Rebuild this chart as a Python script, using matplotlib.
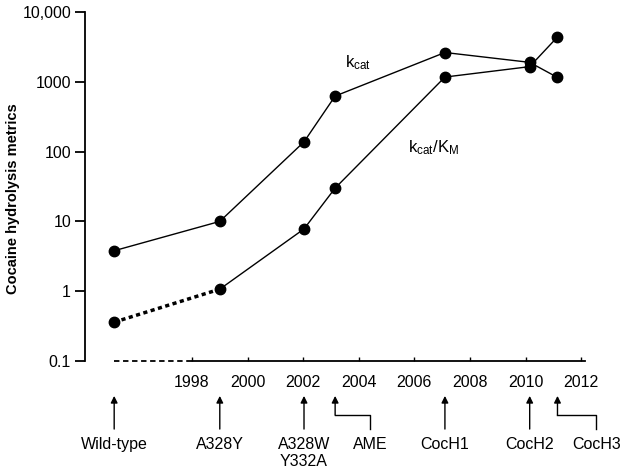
import numpy as np
import matplotlib
matplotlib.use('Agg')
import matplotlib.pyplot as plt

plt.rcParams['font.family'] = 'Liberation Sans'
plt.rcParams['mathtext.fontset'] = 'custom'
plt.rcParams['mathtext.rm'] = 'Liberation Sans'

# point positions (years, as drawn) and values
pt_years = [1995.2, 1999.0, 2002.03, 2003.15, 2007.1, 2010.15, 2011.15]
kcat = [3.8, 10, 138, 625, 2630, 1900, 1155]
kcat_km = [0.36, 1.07, 7.8, 30, 1170, 1650, 4390]

# enzyme labels below the axis
enz_names = ['Wild-type', 'A328Y', 'A328W\nY332A', 'AME', 'CocH1', 'CocH2', 'CocH3']
arrow_years = [1995.2, 1999.0, 2002.03, 2003.15, 2007.1, 2010.15, 2011.15]
label_years = [1995.2, 1999.0, 2002.03, 2004.41, 2007.1, 2010.15, 2012.55]

year_ticks = [1998, 2000, 2002, 2004, 2006, 2008, 2010, 2012]
y_ticks = [0.1, 1, 10, 100, 1000, 10000]
y_labels = ['0.1', '1', '10', '100', '1000', '10,000']

fig = plt.figure(figsize=(6.31, 4.75), dpi=100)
ax = fig.add_axes([0.1347, 0.24, 0.8479, 0.7347])

ax.set_yscale('log')
ax.set_ylim(0.1, 10000)
ax.set_xlim(1994.15, 2013.4)

# kcat
ax.plot(pt_years, kcat, color='k', lw=1, marker='o', ms=7.5, clip_on=False, zorder=3)
# kcat/KM, dashed first step
ax.plot(pt_years[:2], kcat_km[:2], color='k', lw=2.5, ls=(0, (1.2, 1.0)), zorder=2)
ax.plot(pt_years[1:], kcat_km[1:], color='k', lw=1, zorder=2)
ax.plot(pt_years, kcat_km, ls='none', color='k', marker='o', ms=7.5, clip_on=False, zorder=3)

ax.text(2003.5, 1860, r'$\mathregular{k_{cat}}$', fontsize=12, va='center')
ax.text(2005.77, 113, r'$\mathregular{k_{cat}/K_{M}}$', fontsize=12, va='center')

# axes styling
for s in ['top', 'right', 'bottom']:
    ax.spines[s].set_visible(False)
ax.spines['left'].set_linewidth(1.3)
ax.set_yticks(y_ticks)
ax.set_yticklabels(y_labels, fontsize=11.5)
ax.yaxis.set_minor_locator(matplotlib.ticker.NullLocator())
ax.tick_params(axis='y', length=7, width=1.3, pad=3)
ax.set_xticks(year_ticks)
ax.set_xticklabels([str(y) for y in year_ticks], fontsize=11.5)
ax.tick_params(axis='x', direction='in', length=3, width=1, pad=10)
ax.set_ylabel('Cocaine hydrolysis metrics', fontsize=10.5, fontweight='bold')
ax.yaxis.set_label_coords(-0.1215, 0.464)

# baseline: dashed before 1998, solid after
ax.plot([pt_years[0], year_ticks[0]], [0.1, 0.1], color='k', lw=1.3, ls=(0, (3, 2)), clip_on=False)
ax.plot([year_ticks[0], 2012.15], [0.1, 0.1], color='k', lw=1.3, clip_on=False)

# arrows and labels under the axis
tr = ax.get_xaxis_transform()
y_tip, y_corner, y_base, y_text = -0.100, -0.155, -0.195, -0.219
for name, ax_x, lb_x in zip(enz_names, arrow_years, label_years):
    if abs(ax_x - lb_x) > 0.1:
        ax.plot([lb_x, lb_x, ax_x], [y_base, y_corner, y_corner], color='k', lw=1,
                transform=tr, clip_on=False)
        start = y_corner
    else:
        start = y_base
    ax.annotate('', xy=(ax_x, y_tip), xytext=(ax_x, start), xycoords=tr, textcoords=tr,
                arrowprops=dict(arrowstyle='-|>', color='k', lw=1, mutation_scale=10,
                                shrinkA=0, shrinkB=0))
    ax.text(lb_x, y_text, name, transform=tr, ha='center', va='top', fontsize=11.5,
            linespacing=1.1)

fig.savefig('out.png', dpi=100)
